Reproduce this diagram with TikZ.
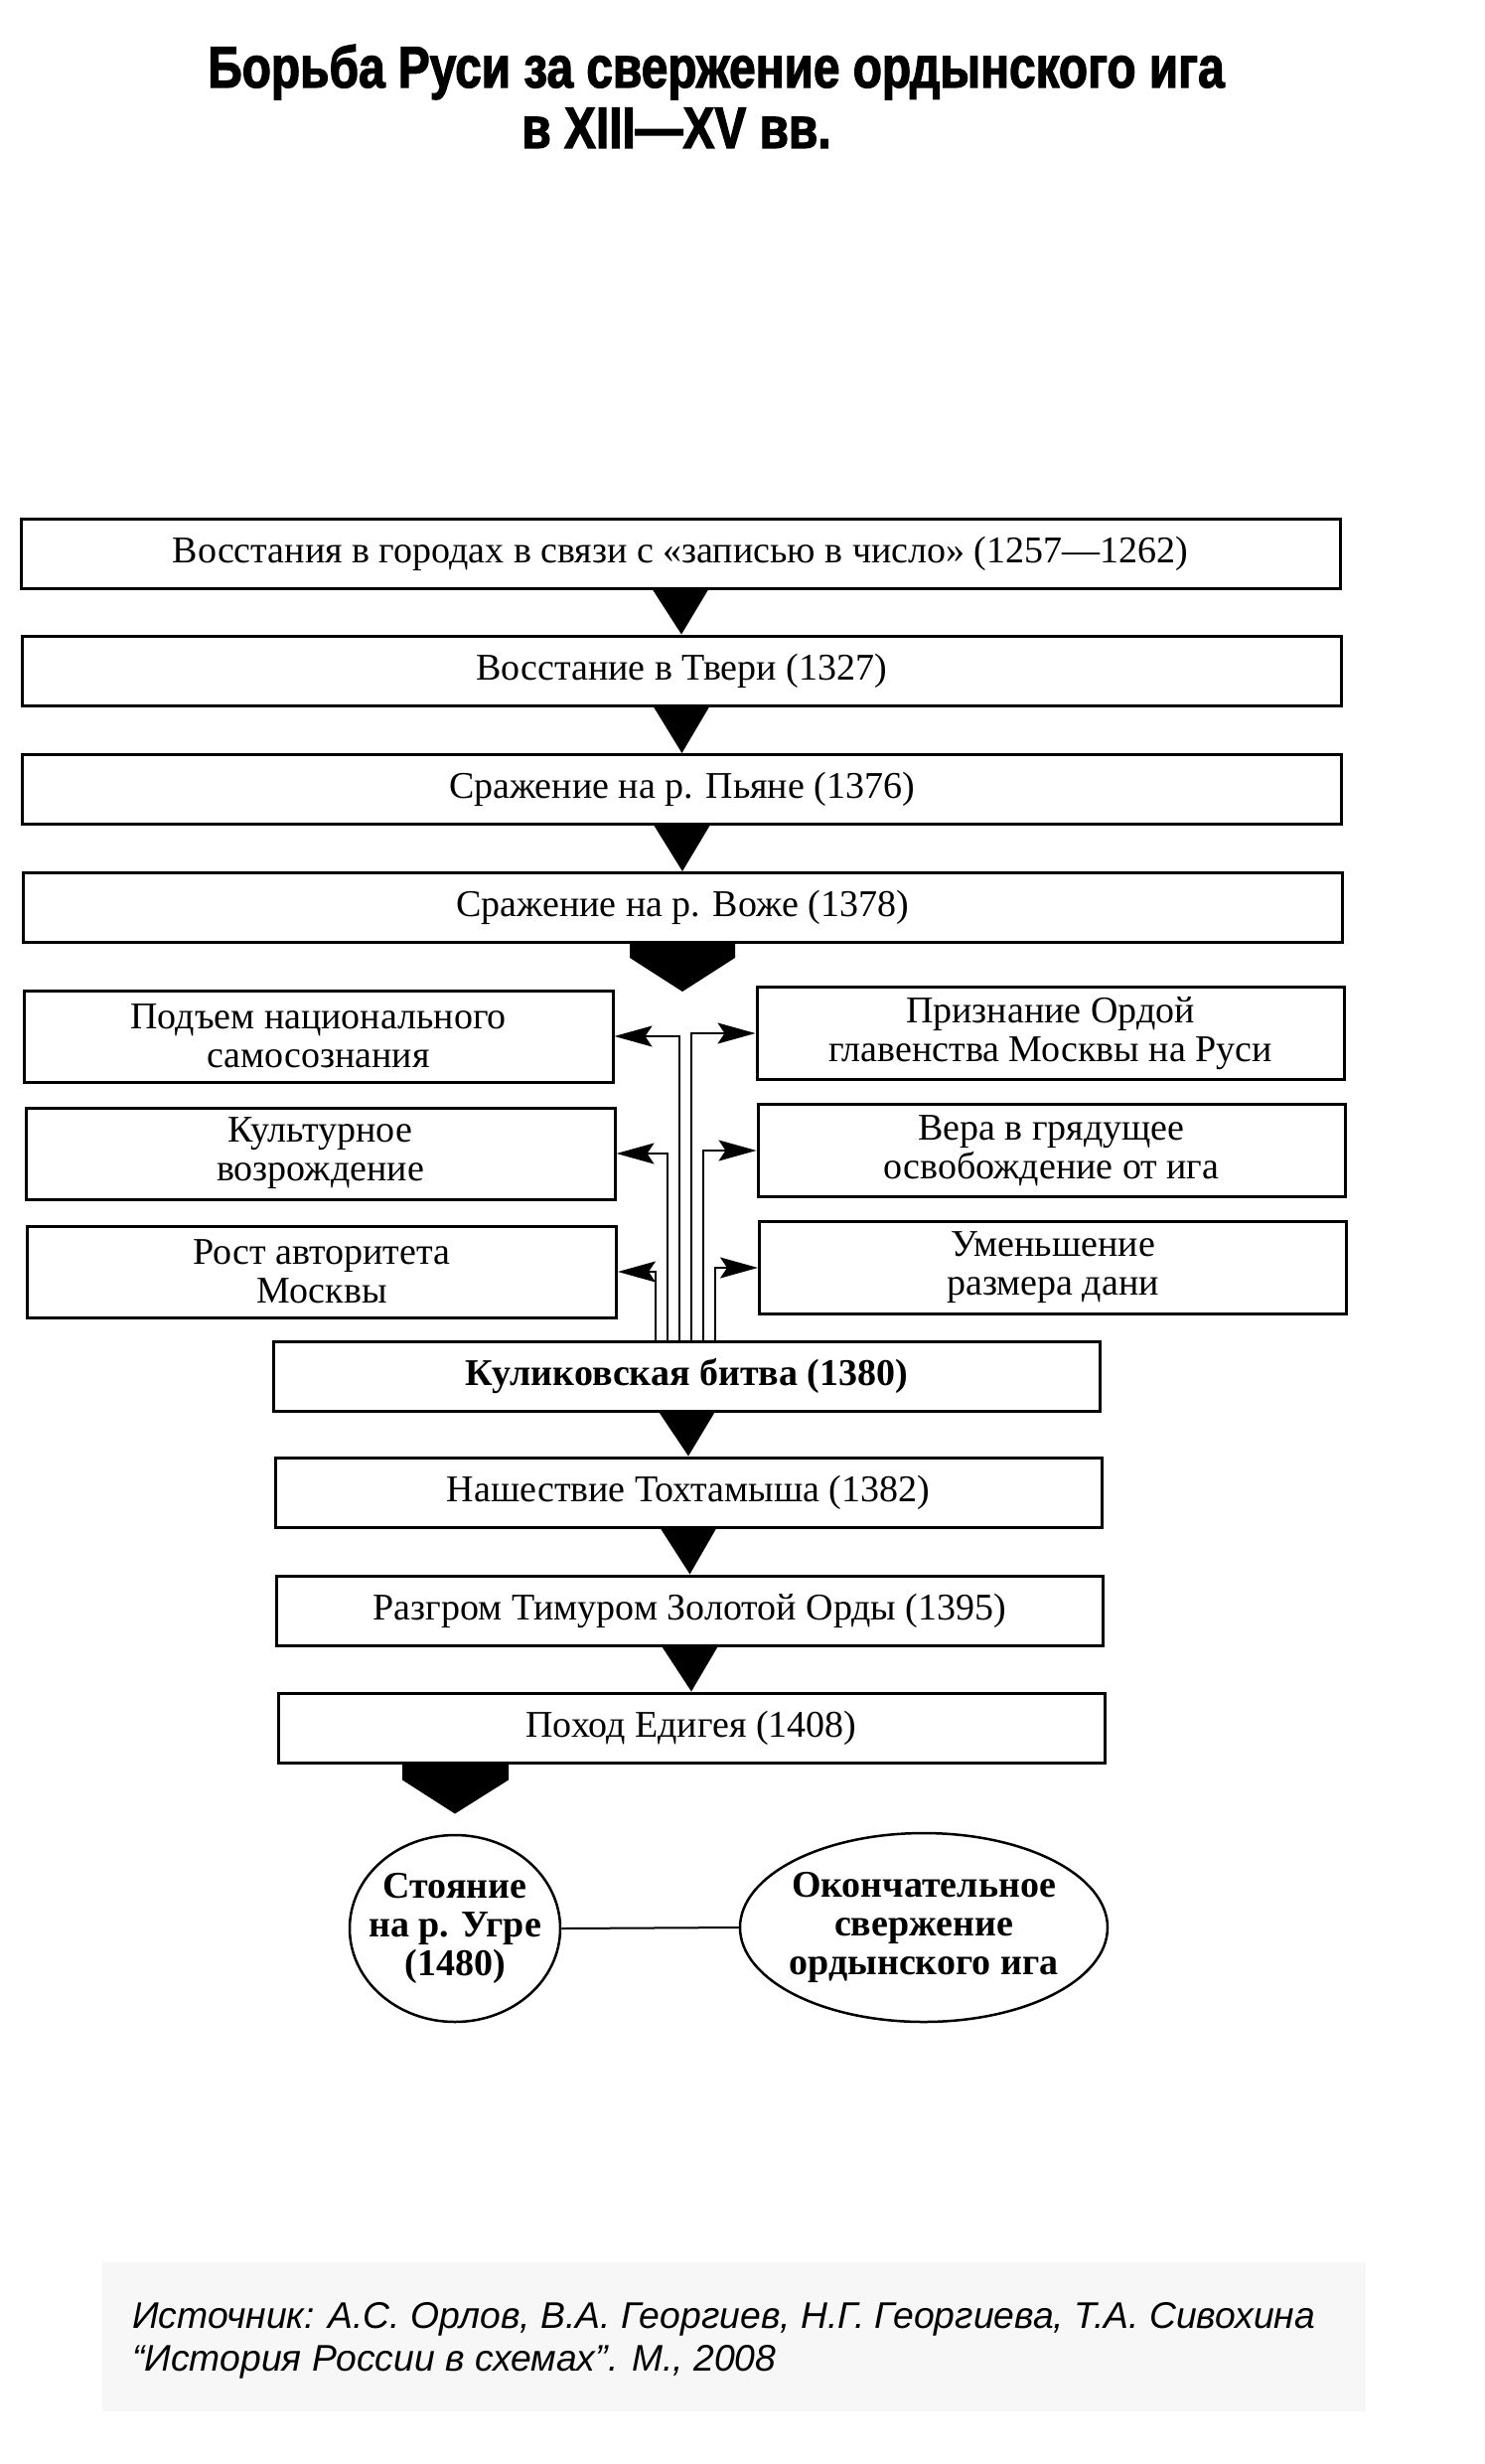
\documentclass[tikz,border=0pt]{standalone}
\usepackage{fontspec}
\setmainfont{Liberation Serif}
\newfontfamily\titlefont[FakeStretch=0.81,FakeBold=2]{Liberation Sans}
\newfontfamily\srcfont{Liberation Sans}
\usetikzlibrary{arrows.meta,shapes.geometric,calc}
\begin{document}
\begin{tikzpicture}[x=1pt,y=-1pt,
  box/.style={draw, line width=3pt, rectangle, inner sep=0pt, align=center,
    font=\fontsize{38}{39}\selectfont},
  wide/.style={box, minimum width=1328pt, minimum height=70pt},
  mid/.style={box, minimum width=832pt, minimum height=70pt},
  lbox/.style={box, minimum width=593pt, minimum height=92pt},
  rbox/.style={box, minimum width=591pt, minimum height=93pt},
  oval/.style={draw, ellipse, line width=2.5pt, inner sep=0pt},
  ovaltext/.style={align=center, inner sep=0pt, font=\fontsize{38}{39}\selectfont\bfseries},
  conn/.style={line width=2pt, -{Stealth[length=38pt,width=21pt,inset=7pt]}},
  titletext/.style={anchor=base, inner sep=0pt, font=\titlefont\bfseries\fontsize{59}{68}\selectfont},
  srctext/.style={anchor=base west, inner sep=0pt, font=\srcfont\itshape\fontsize{37.3}{45}\selectfont}
]
\useasboundingbox (0,0) rectangle (1494,2480);

% title
\node[titletext] (t1) at (721,88) {Борьба Руси за свержение ордынского ига};
\node[titletext] (t2) at (681,149) {в XIII—XV вв.};

% chain of boxes
\node[wide] (b1) at (685,557) {Восстания в городах в связи с «записью в число» (1257—1262)};
\node[wide] (b2) at (686,675) {Восстание в Твери (1327)};
\node[wide] (b3) at (686.5,794.5) {Сражение на р. Пьяне (1376)};
\node[wide] (b4) at (687,913.5) {Сражение на р. Воже (1378)};

\foreach \a/\b in {b1/b2,b2/b3,b3/b4}{
  \fill ($(\a.south)+(-28,0)$) -- ($(\a.south)+(28,0)$) -- (\b.north) -- cycle;
}
% wide arrow below b4
\fill ($(b4.south)+(-53,0)$) -- ($(b4.south)+(53,0)$) -- ($(b4.south)+(53,14)$)
  -- ($(b4.south)+(0,48)$) -- ($(b4.south)+(-53,14)$) -- cycle;

% side boxes
\node[lbox] (l1) at (320.5,1043) {Подъем национального\\самосознания};
\node[lbox] (l2) at (322.5,1161) {Культурное\\возрождение};
\node[lbox] (l3) at (324,1280) {Рост авторитета\\Москвы};
\node[rbox] (r1) at (1057.5,1040) {Признание Ордой\\главенства Москвы на Руси};
\node[rbox] (r2) at (1058.5,1158) {Вера в грядущее\\освобождение от ига};
\node[rbox] (r3) at (1060,1276) {Уменьшение\\размера дани};

% Kulikovo and the following chain
\node[mid, font=\fontsize{38}{39}\selectfont\bfseries] (k) at (691.5,1385) {Куликовская битва (1380)};
\node[mid] (m2) at (693,1502) {Нашествие Тохтамыша (1382)};
\node[mid] (m3) at (694.5,1621) {Разгром Тимуром Золотой Орды (1395)};
\node[mid] (m4) at (696,1739) {Поход Едигея (1408)};

% connectors from Kulikovo to side boxes
\draw[conn] ($(k.north)+(-7.5,0)$) |- (l1.east);
\draw[conn] ($(k.north)+(4.5,0)$) |- (r1.west);
\draw[conn] ($(k.north)+(-19.5,0)$) |- (l2.east);
\draw[conn] ($(k.north)+(16.5,0)$) |- (r2.west);
\draw[conn] ($(k.north)+(-31.5,0)$) |- (l3.east);
\draw[conn] ($(k.north)+(28.5,0)$) |- (r3.west);

\foreach \a/\b in {k/m2,m2/m3,m3/m4}{
  \fill ($(\a.south)+(-28,0)$) -- ($(\a.south)+(28,0)$) -- (\b.north) -- cycle;
}

% ovals
\node[oval, minimum width=212pt, minimum height=188pt] (e1) at (458,1941) {};
\node[ovaltext] (e1t) at (e1.center) {Стояние\\на р. Угре\\(1480)};
\node[oval, minimum width=370pt, minimum height=190pt] (e2) at (930,1940) {};
\node[ovaltext] (e2t) at (e2.center) {Окончательное\\свержение\\ордынского ига};
\draw[line width=2pt] (e1.east) -- (e2.west);

% wide arrow below m4
\fill ($(e1.north |- m4.south)+(-53,0)$) -- ($(e1.north |- m4.south)+(54,0)$)
  -- ($(e1.north |- m4.south)+(54,16)$) -- ($(e1.north |- m4.south)+(0,50)$)
  -- ($(e1.north |- m4.south)+(-53,16)$) -- cycle;

% source
\fill[black!3] (103,2277) rectangle (1375,2427);
\node[srctext] (s1) at (133,2343) {Источник: А.С. Орлов, В.А. Георгиев, Н.Г. Георгиева, Т.А. Сивохина};
\node[srctext] (s2) at (133,2386) {“История России в схемах”. М., 2008};
\end{tikzpicture}
\end{document}
